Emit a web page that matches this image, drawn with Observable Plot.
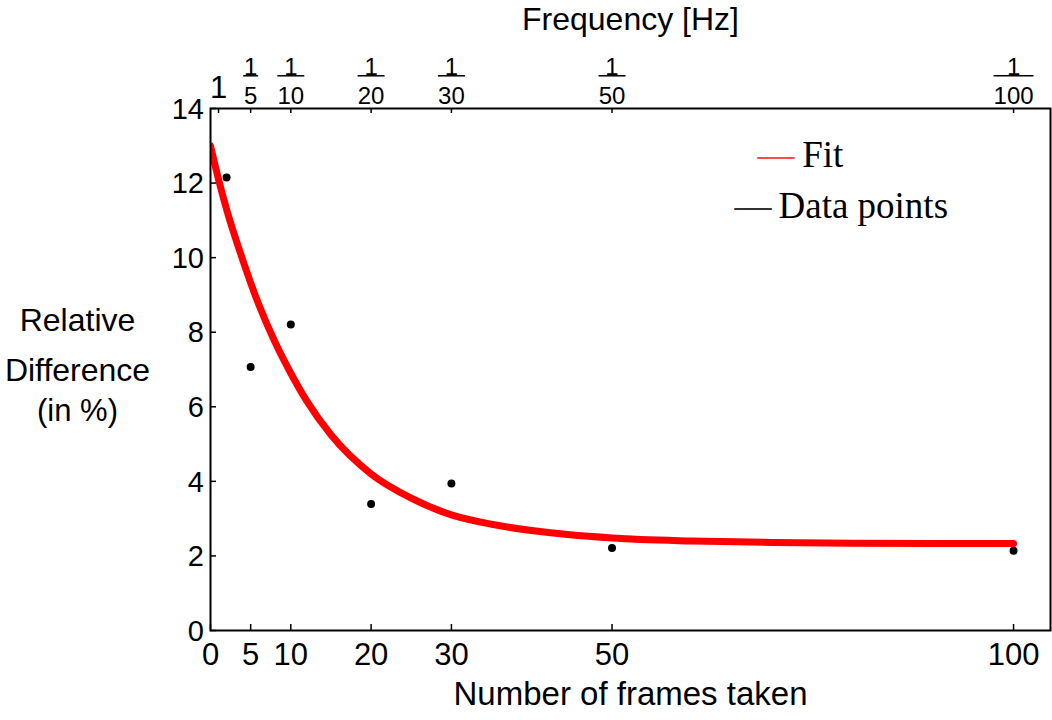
<!DOCTYPE html>
<html>
<head>
<meta charset="utf-8">
<script src="https://cdn.jsdelivr.net/npm/d3@7"></script>
<script src="https://cdn.jsdelivr.net/npm/@observablehq/plot@0.6"></script>
<style>
  html, body { margin: 0; padding: 0; background: #fff; }
  #chart svg { display: block; }
</style>
</head>
<body>
<div id="chart"></div>
<script>
// Measured data points
const framesTaken = [2, 5, 10, 20, 30, 50, 100];
const relDiff = [12.15, 7.07, 8.21, 3.39, 3.94, 2.21, 2.14];

// Fit curve
const fitFrames = [0, 1, 2, 4, 6, 8, 10, 12, 15, 20, 25, 30, 35, 40, 50, 60, 70, 80, 90, 100];
const fitValues = [13.0, 12.1, 11.3, 9.95, 8.75, 7.75, 6.9, 6.15, 5.25, 4.2, 3.55, 3.1, 2.85, 2.68, 2.48, 2.4, 2.36, 2.34, 2.33, 2.33];

// Axes
const xTicks = [0, 5, 10, 20, 30, 50, 100];
const yTicks = [0, 2, 4, 6, 8, 10, 12, 14];
const freqFrames = [1, 5, 10, 20, 30, 50, 100];
const freqLabels = ["1", "1/5", "1/10", "1/20", "1/30", "1/50", "1/100"];

const points = framesTaken.map((f, i) => ({f, v: relDiff[i]}));
const fit = fitFrames.map((f, i) => ({f, v: fitValues[i]}));
const freq = freqFrames.map((f, i) => {
  const [num, den] = freqLabels[i].split("/");
  return {f, num, den: den || null};
});
const fracs = freq.filter(d => d.den);
const wholes = freq.filter(d => !d.den);

const hbar = {
  draw(ctx, size) {
    const r = Math.sqrt(size / Math.PI);
    ctx.moveTo(-r, 0);
    ctx.lineTo(r, 0);
  }
};

const W = 1052, H = 720, mL = 210, mR = 2, mT = 108, mB = 90;
const pw = W - mL - mR, ph = H - mT - mB;
const sans = "'Liberation Sans', Arial, Helvetica, sans-serif";
const serif = "'Liberation Serif', 'Times New Roman', serif";
const mid = {textAnchor: "middle", lineAnchor: "middle", fill: "#000"};

const chart = Plot.plot({
  width: W,
  height: H,
  marginLeft: mL,
  marginRight: mR,
  marginTop: mT,
  marginBottom: mB,
  style: {fontFamily: sans, fontSize: "30px", background: "#fff", color: "#000"},
  x: {domain: [0, 104.6], axis: null},
  y: {domain: [0, 14], axis: null},
  marks: [
    // fit curve
    Plot.line(fit, {x: "f", y: "v", curve: "monotone-x", stroke: "#ff0000", strokeWidth: 7, clip: true}),
    // data points
    Plot.dot(points, {x: "f", y: "v", r: 4, fill: "#000", stroke: "none"}),
    // frame
    Plot.frame({stroke: "#000", strokeWidth: 2}),
    // inward ticks
    Plot.tickX(xTicks, {x: d => d, insetTop: ph - 6, stroke: "#000", strokeWidth: 1.5}),
    Plot.tickX(freqFrames, {x: d => d, insetBottom: ph - 5, stroke: "#000", strokeWidth: 1.5}),
    Plot.tickY(yTicks, {y: d => d, insetRight: pw - 6, stroke: "#000", strokeWidth: 1.5}),
    // tick labels
    Plot.text(xTicks, {...mid, x: d => d, text: d => String(d), frameAnchor: "bottom", dy: 25, fontSize: 31}),
    Plot.text(yTicks, {y: d => d, text: d => String(d), frameAnchor: "left", textAnchor: "end", lineAnchor: "middle", dx: -6.5, dy: 1, fontSize: 29, fill: "#000"}),
    // top frequency axis labels
    Plot.text(wholes, {...mid, x: "f", text: "num", frameAnchor: "top", dy: -20, fontSize: 31}),
    Plot.text(fracs, {...mid, x: "f", text: "num", frameAnchor: "top", dy: -41.4, fontSize: 24}),
    Plot.text(fracs, {...mid, x: "f", text: "den", frameAnchor: "top", dy: -12.6, fontSize: 24}),
    Plot.dot(fracs.filter(d => d.den.length === 1), {x: "f", frameAnchor: "top", dy: -32.7, symbol: hbar, r: 7.5, stroke: "#000", strokeWidth: 1.5, fill: "none"}),
    Plot.dot(fracs.filter(d => d.den.length === 2), {x: "f", frameAnchor: "top", dy: -32.7, symbol: hbar, r: 13.5, stroke: "#000", strokeWidth: 1.5, fill: "none"}),
    Plot.dot(fracs.filter(d => d.den.length === 3), {x: "f", frameAnchor: "top", dy: -32.7, symbol: hbar, r: 20, stroke: "#000", strokeWidth: 1.5, fill: "none"}),
    // axis titles
    Plot.text(["Frequency [Hz]"], {...mid, text: d => d, frameAnchor: "top", dy: -89.2, fontSize: 32}),
    Plot.text(["Number of frames taken"], {...mid, text: d => d, frameAnchor: "bottom", dy: 64.4, fontSize: 33}),
    Plot.text(["Relative"], {...mid, text: d => d, frameAnchor: "left", dx: -133, dy: -48.5, fontSize: 32}),
    Plot.text(["Difference"], {...mid, text: d => d, frameAnchor: "left", dx: -133, dy: 1.5, fontSize: 32}),
    Plot.text(["(in %)"], {...mid, text: d => d, frameAnchor: "left", dx: -133, dy: 41.5, fontSize: 31}),
    // legend
    Plot.text(["\u2014"], {text: d => d, frameAnchor: "top-left", textAnchor: "start", lineAnchor: "middle", dx: 547, dy: 46.9, fontSize: 37, fontFamily: serif, fill: "#ff4d4d"}),
    Plot.text(["Fit"], {text: d => d, frameAnchor: "top-left", textAnchor: "start", lineAnchor: "middle", dx: 591.7, dy: 46.2, fontSize: 37, fontFamily: serif, fill: "#000"}),
    Plot.text(["\u2014"], {text: d => d, frameAnchor: "top-left", textAnchor: "start", lineAnchor: "middle", dx: 524, dy: 97.9, fontSize: 37, fontFamily: serif, fill: "#333"}),
    Plot.text(["Data points"], {text: d => d, frameAnchor: "top-left", textAnchor: "start", lineAnchor: "middle", dx: 568, dy: 97.2, fontSize: 37, fontFamily: serif, fill: "#000"})
  ]
});

document.getElementById("chart").appendChild(chart);
</script>
</body>
</html>
